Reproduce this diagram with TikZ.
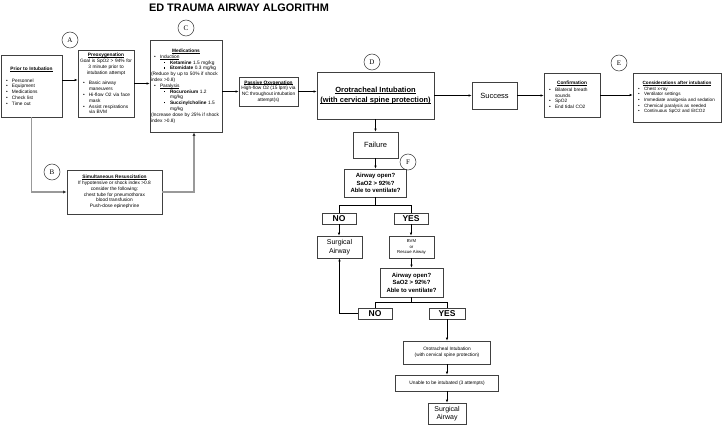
\documentclass[tikz,border=0pt]{standalone}
\usepackage{fontspec}
\setmainfont{Liberation Sans}
\newfontfamily\tagfont{Liberation Serif}
\usetikzlibrary{arrows.meta}
\setlength{\parindent}{0pt}

% list helpers
\newcommand{\ul}[1]{{\setbox0\hbox{#1}\rlap{\rule[-0.8pt]{\wd0}{0.35pt}}\box0}}
\newcommand{\bl}{\hspace*{3pt}\makebox[6pt][l]{\textbullet}}
\newcommand{\cn}{\hspace*{9pt}}
\newcommand{\sbl}{\hspace*{13pt}\makebox[6pt][l]{\raisebox{1.3pt}{\rule{1.1pt}{1.1pt}}}}
\newcommand{\scn}{\hspace*{19pt}}
\newcommand{\cl}[1]{\makebox[\hsize]{#1}}
\newcommand{\ttl}[1]{\makebox[\hsize]{\bfseries\ul{#1}}}

\begin{document}
\begin{tikzpicture}[x=1pt,y=-1pt,>={Latex[length=3pt,width=2.4pt]},
    box/.style={draw=black!75,line width=0.6pt,inner sep=1.5pt,
      font=\fontsize{4.8}{5.8}\selectfont},
    lbox/.style={box,align=left},
    cbox/.style={box,align=center},
    big/.style={cbox,font=\fontsize{7.5}{9}\selectfont},
    ask/.style={cbox,font=\bfseries\fontsize{6}{7.5}\selectfont},
    yn/.style={box,inner sep=0pt,minimum width=34pt,minimum height=11pt,
      font=\bfseries\fontsize{8.5}{9}\selectfont},
    tag/.style={draw=black!80,line width=0.5pt,circle,minimum size=16pt,
      inner sep=0pt,font=\tagfont\fontsize{7}{7}\selectfont},
    link/.style={->,line width=0.6pt},
    plain/.style={line width=0.6pt},
    glink/.style={-{Latex[length=3.5pt,width=3pt,black!80]},line width=1.2pt,draw=black!40}]
  \fill[white] (0,0) rectangle (723,425);
  \useasboundingbox (0,0) rectangle (723,425);

  \node[font=\bfseries\fontsize{10.9}{12}\selectfont] (title) at (239,8) {ED TRAUMA AIRWAY ALGORITHM};

  % top row
  \node[lbox,text width=57pt,minimum width=61pt,minimum height=62pt] (prior) at (31.5,86)
    {\ttl{Prior to Intubation}\\[6pt]
     \bl Personnel\\ \bl Equipment\\ \bl Medications\\ \bl Check list\\ \bl Time out\par\vspace{20pt}};
  \node[lbox,text width=52pt,minimum width=56pt,minimum height=67pt] (preox) at (106,83.5)
    {\ttl{Preoxygenation}\\ \cl{Goal is SpO2 > 94\% for}\\ \cl{3 minute prior to}\\ \cl{intubation attempt}\\[5pt]
     \bl Basic airway\\ \cn maneuvers\\ \bl Hi-flow O2 via face\\ \cn mask\\ \bl Assist respirations\\ \cn via BVM};
  \node[lbox,inner sep=1pt,text width=70pt,minimum width=72pt,minimum height=92pt] (meds) at (186,86)
    {\ttl{Medications}\\
     \bl \ul{Induction}\\
     \sbl \textbf{Ketamine} 1.5 mg/kg\\
     \sbl \textbf{Etomidate} 0.3 mg/kg\\
     (Reduce by up to 50\% if shock\\ index >0.8)\\
     \bl \ul{Paralysis}\\
     \sbl \textbf{Rocuronium} 1.2\\ \scn mg/kg\\
     \sbl \textbf{Succinylcholine} 1.5\\ \scn mg/kg\\
     (Increase dose by 25\% if shock\\ index >0.8)\par\vspace{3pt}};
  \node[cbox,minimum width=95pt,minimum height=44pt] (simul) at (114.5,192)
    {\textbf{\ul{Simultaneous Resuscitation}}\\ If hypotensive or shock index >0.8\\
     consider the following:\\ chest tube for pneumothorax\\ blood transfusion\\ Push-dose epinephrine};
  \node[cbox,minimum width=59pt,minimum height=29pt] (passive) at (268.5,91.5)
    {\textbf{\ul{Passive Oxygenation}}\\ High-flow O2 (15 lpm) via\\ NC throughout intubation\\ attempt(s)};
  \node[big,font=\bfseries\fontsize{7.5}{10}\selectfont,minimum width=117pt,minimum height=47pt] (oro) at (375.5,95.5)
    {\ul{Orotracheal Intubation}\\ \ul{(with cervical spine protection)}};
  \node[big,minimum width=45pt,minimum height=27pt] (success) at (494.5,95.5) {Success};
  \node[lbox,text width=52pt,minimum width=56pt,minimum height=44pt] (confirm) at (572,95)
    {\ttl{Confirmation}\\[0.6pt] \bl Bilateral breath\\ \cn sounds\\ \bl SpO2\\ \bl End tidal CO2\par\vspace{4pt}};
  \node[lbox,font=\fontsize{4.6}{5.6}\selectfont,text width=84pt,minimum width=88pt,minimum height=49pt] (consid) at (677,97.5)
    {\ttl{Considerations after intubation}\\ \bl Chest x-ray\\ \bl Ventilator settings\\
     \bl Immediate analgesia and sedation\\ \bl Chemical paralysis as needed\\ \bl Continuous SpO2 and EtCO2\par\vspace{15pt}};

  % letters
  \node[tag] (tagA) at (70,40) {A};
  \node[tag] (tagB) at (52,172) {B};
  \node[tag] (tagC) at (186,28) {C};
  \node[tag] (tagD) at (372,62) {D};
  \node[tag] (tagE) at (619,63) {E};
  \node[tag] (tagF) at (408,162) {F};

  % failure branch
  \node[big,minimum width=45pt,minimum height=26pt] (failure) at (375.5,145) {Failure};
  \node[ask,minimum width=62pt,minimum height=28pt] (air1) at (375.5,183)
    {Airway open?\\ SaO2 > 92\%?\\ Able to ventilate?};
  \node[yn] (no1) at (339,218.5) {NO};
  \node[yn] (yes1) at (411,218.5) {YES};
  \node[cbox,font=\fontsize{7}{8.5}\selectfont,minimum width=45pt,minimum height=22pt] (surg1) at (339.5,247)
    {Surgical\\ Airway};
  \node[cbox,font=\fontsize{4.3}{5.6}\selectfont,minimum width=45pt,minimum height=22pt] (bvm) at (411.5,247)
    {BVM\\ or\\ Rescue Airway};
  \node[ask,minimum width=63pt,minimum height=29pt] (air2) at (411.5,282.5)
    {Airway open?\\ SaO2 > 92\%?\\ Able to ventilate?};
  \node[yn] (no2) at (375,313.5) {NO};
  \node[yn,minimum width=36pt] (yes2) at (447,313.5) {YES};
  \node[cbox,font=\fontsize{4.8}{6.5}\selectfont,minimum width=87pt,minimum height=23pt] (oro2) at (447,352.5)
    {Orotracheal Intubation\\ (with cervical spine protection)};
  \node[cbox,minimum width=103pt,minimum height=16pt] (unable) at (447,383)
    {Unable to be intubated (3 attempts)};
  \node[cbox,font=\fontsize{7}{8.5}\selectfont,minimum width=38pt,minimum height=21pt] (surg2) at (447,413.5)
    {Surgical\\ Airway};

  % connectors
  \draw[link] ([yshift=6pt]prior.east) -- ([yshift=6pt]prior.east -| preox.west);
  \draw[link] (preox.east) -- (preox.east -| meds.west);
  \draw[link] (meds.east |- passive.west) -- (passive.west);
  \draw[link] (passive.east) -- (passive.east -| oro.west);
  \draw[link] (oro.east) -- (success.west);
  \draw[link] (success.east) -- (success.east -| confirm.west);
  \draw[link] (confirm.east) -- (confirm.east -| consid.west);
  \draw[glink] (prior.south) |- (simul.west);
  \draw[glink] (simul.east) -| ([xshift=8pt]meds.south);

  \draw[link] (oro.south) -- (failure.north);
  \draw[link] (failure.south) -- (air1.north);
  \draw[plain] (air1.south) -- ++(0,8) -| (no1.north);
  \draw[plain] (air1.south) -- ++(0,8) -| (yes1.north);
  \draw[link] (no1.south) -- (no1.south |- surg1.north);
  \draw[link] (yes1.south) -- (yes1.south |- bvm.north);
  \draw[link] (bvm.south) -- (air2.north);
  \draw[plain] (air2.south) -- ++(0,5) -| (no2.north);
  \draw[plain] (air2.south) -- ++(0,5) -| (yes2.north);
  \draw[link] (no2.west) -| (surg1.south);
  \draw[link] (yes2.south) -- (oro2.north);
  \draw[link] (oro2.south) -- (unable.north);
  \draw[link] (unable.south) -- (surg2.north);
\end{tikzpicture}
\end{document}
